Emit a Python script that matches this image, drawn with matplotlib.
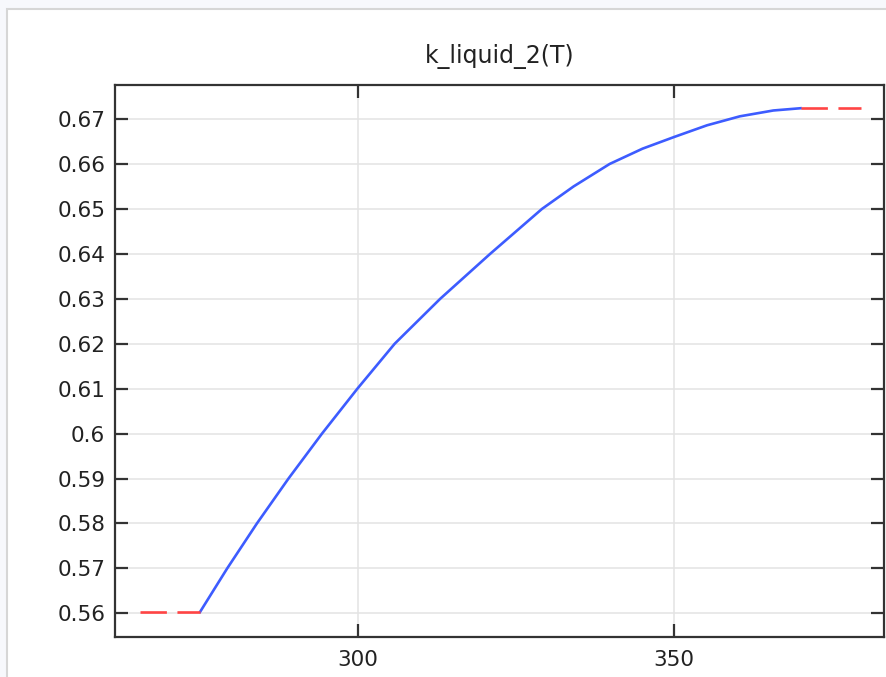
import matplotlib
matplotlib.use("Agg")
import matplotlib.pyplot as plt
from matplotlib.patches import Rectangle
from matplotlib.ticker import FuncFormatter

# curve (T in K, k in W/(m*K))
T_vals = [275.0, 279.3, 284.0, 289.0, 294.3, 299.9, 305.8, 313.0, 320.9,
          329.1, 334.1, 339.8, 345.0, 350.0, 355.2, 360.4, 365.7, 370.0]
k_vals = [0.5603, 0.5700, 0.5800, 0.5900, 0.6000, 0.6100, 0.6200, 0.6300, 0.6400,
          0.6500, 0.6550, 0.6600, 0.6634, 0.6660, 0.6686, 0.6706, 0.6719, 0.6724]

# constant extrapolation outside the range
T_low = [265.5, 275.0]
T_high = [370.0, 379.5]

x_ticks = [300, 350]
y_ticks = [0.56, 0.57, 0.58, 0.59, 0.60, 0.61, 0.62, 0.63, 0.64, 0.65, 0.66, 0.67]

W, H = 886, 677
fig = plt.figure(figsize=(W / 100, H / 100), dpi=100, facecolor="#f7f8fc")

# light panel frame behind the plot
fig.patches.append(Rectangle((7 / W, -0.1), 1.2, 1 - 9 / H + 0.1,
                             transform=fig.transFigure, facecolor="white",
                             edgecolor="#d6d6d6", linewidth=1.5, zorder=-5))

ax = fig.add_axes([115 / W, 1 - 637 / H, (884 - 115) / W, (637 - 85) / H])
ax.set_zorder(2)

ax.plot(T_vals, k_vals, color="#3d5cff", lw=1.9, zorder=3)
ax.plot(T_low, [k_vals[0]] * 2, color="#ff4444", lw=1.9, dashes=(10, 4), zorder=3)
ax.plot(T_high, [k_vals[-1]] * 2, color="#ff4444", lw=1.9, dashes=(10, 4), zorder=3)

ax.set_xlim(261.55, 383.2)
ax.set_ylim(0.55473, 0.67757)
ax.set_xticks(x_ticks)
ax.set_yticks(y_ticks)
ax.yaxis.set_major_formatter(FuncFormatter(lambda v, p: "%g" % round(v, 2)))

ax.grid(True, color="#e3e3e3", lw=1.1)
ax.set_axisbelow(True)
for s in ax.spines.values():
    s.set_color("#333333")
    s.set_linewidth(1.6)

ax.tick_params(axis="both", which="major", direction="in", length=9.5, width=1.6,
               color="#333333", labelsize=15.5, labelcolor="#222222",
               top=True, right=True)
ax.tick_params(axis="x", pad=9)
ax.tick_params(axis="y", pad=7)

ax.set_title("k_liquid_2(T)", fontsize=17, color="#222222", pad=16)

fig.savefig("out.png", dpi=100, facecolor=fig.get_facecolor())
